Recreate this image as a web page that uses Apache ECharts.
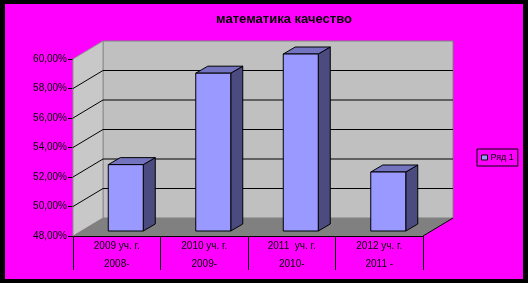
<!DOCTYPE html>
<html><head><meta charset="utf-8">
<script src="https://cdn.jsdelivr.net/npm/echarts@6/dist/echarts.min.js"></script>
<style>html,body{margin:0;padding:0;background:#000;}#c{width:528px;height:283px;}</style>
</head><body><div id="c"></div>
<script>
const titleText = 'математика качество';
const catLine1 = ['2009 уч. г.', '2010 уч. г.', '2011  уч. г.', '2012 уч. г.'];
const catLine2 = ['2008-', '2009-', '2010-', '2011 -'];
const seriesName = 'Ряд 1';
const values = [52.5, 58.7, 60.0, 52.0];
const yMin = 48, yMax = 60, yStep = 2;
const gridValues = [50, 52, 54, 56, 58];

const DX = 30, DY = -18;          // depth of the 3D box
const BF = [9, -5], BB = [21, -12]; // bar front / back offsets
const font = 'Arial, "Liberation Sans", sans-serif';

const chart = echarts.init(document.getElementById('c'), null, {renderer: 'canvas'});

function wallsRender(params, api) {
  const cs = params.coordSys;
  const x0 = cs.x, x1 = cs.x + cs.width;
  const yb = api.coord([0, yMin])[1], yt = api.coord([0, yMax])[1];
  const children = [];
  children.push({type: 'rect', shape: {x: x0 + DX, y: yt + DY, width: x1 - x0, height: yb - yt},
    style: {fill: '#c0c0c0', stroke: '#808080', lineWidth: 1}});
  children.push({type: 'polygon', shape: {points: [[x0, yt], [x0 + DX, yt + DY], [x0 + DX, yb + DY], [x0, yb]]},
    style: {fill: '#c8c8c8', stroke: '#909090', lineWidth: 1}});
  children.push({type: 'polygon', shape: {points: [[x0, yb], [x1, yb], [x1 + DX, yb + DY], [x0 + DX, yb + DY]]},
    style: {fill: '#808080'}});
  children.push({type: 'line', shape: {x1: x1, y1: yb, x2: x1 + DX, y2: yb + DY}, style: {stroke: '#000', lineWidth: 1}});
  return {type: 'group', children: children};
}

function gridRender(params, api) {
  const cs = params.coordSys;
  const x0 = cs.x, x1 = cs.x + cs.width;
  const y = api.coord([0, api.value(0)])[1];
  return {type: 'group', children: [
    {type: 'line', shape: {x1: x0, y1: y, x2: x0 + DX, y2: y + DY}, style: {stroke: '#000', lineWidth: 1}},
    {type: 'line', shape: {x1: x0 + DX, y1: y + DY, x2: x1 + DX, y2: y + DY}, style: {stroke: '#000', lineWidth: 1}}
  ]};
}

function barRender(params, api) {
  const idx = api.value(0), v = api.value(1);
  const top = api.coord([idx, v]);
  const bot = api.coord([idx, yMin]);
  const w = api.size([1, 0])[0] * 0.4;
  const l = top[0] - w / 2 + BF[0], r = top[0] + w / 2 + BF[0];
  const ty = top[1] + BF[1], by = bot[1] + BF[1];
  const ddx = BB[0] - BF[0], ddy = BB[1] - BF[1];
  const st = {stroke: '#000', lineWidth: 1};
  return {type: 'group', children: [
    {type: 'polygon', shape: {points: [[r, ty], [r + ddx, ty + ddy], [r + ddx, by + ddy], [r, by]]},
      style: Object.assign({fill: '#4b4b80'}, st)},
    {type: 'polygon', shape: {points: [[l, ty], [r, ty], [r + ddx, ty + ddy], [l + ddx, ty + ddy]]},
      style: Object.assign({fill: '#7373bf'}, st)},
    {type: 'rect', shape: {x: l, y: ty, width: r - l, height: by - ty},
      style: Object.assign({fill: '#9999ff'}, st)}
  ]};
}

chart.setOption({
  backgroundColor: '#000',
  animation: false,
  graphic: [{type: 'rect', z: -100, shape: {x: 5, y: 4, width: 518, height: 275}, style: {fill: '#ff00ff'}}],
  title: {text: titleText, left: 284, top: 13, padding: 0, textAlign: 'center',
    textStyle: {fontFamily: font, fontSize: 13, fontWeight: 'bold', color: '#000'}},
  legend: {left: 477, top: 149, data: [seriesName], icon: 'rect', itemWidth: 6, itemHeight: 5, itemGap: 4,
    padding: [4, 4, 4, 4], borderColor: '#000', borderWidth: 1,
    itemStyle: {borderColor: '#000', borderWidth: 1},
    textStyle: {fontFamily: font, fontSize: 9, color: '#000', padding: [0, 0, 0, -2]}},
  grid: {left: 73, top: 59, width: 350, height: 177},
  xAxis: {type: 'category', data: catLine1, boundaryGap: true,
    axisLine: {lineStyle: {color: '#000', width: 1}},
    axisTick: {show: true, alignWithLabel: false, interval: 0, length: 34, lineStyle: {color: '#000'}},
    axisLabel: {interval: 0, margin: 1, fontFamily: font, fontSize: 10, color: '#000', lineHeight: 18,
      formatter: (v, i) => catLine1[i] + '\n' + catLine2[i]},
    splitLine: {show: false}},
  yAxis: {type: 'value', min: yMin, max: yMax, interval: yStep,
    axisLine: {show: true, lineStyle: {color: '#000'}},
    axisTick: {show: true, length: 5, lineStyle: {color: '#000'}},
    axisLabel: {margin: 6, fontFamily: font, fontSize: 10, color: '#000',
      formatter: v => v.toFixed(2).replace('.', ',') + '%'},
    splitLine: {show: false}},
  series: [
    {type: 'custom', name: 'walls', silent: true, clip: false, z: 1, renderItem: wallsRender, data: [[0]]},
    {type: 'custom', name: 'grid', silent: true, clip: false, z: 1, renderItem: gridRender,
      data: gridValues.map(v => [v]), encode: {y: 0}},
    {type: 'custom', name: seriesName, clip: false, z: 3, renderItem: barRender,
      itemStyle: {color: '#9999ff'},
      data: values.map((v, i) => [i, v]), encode: {x: 0, y: 1}}
  ]
});
</script></body></html>
